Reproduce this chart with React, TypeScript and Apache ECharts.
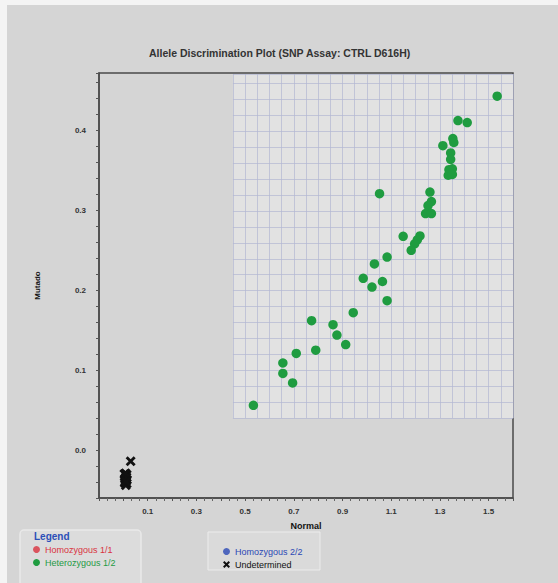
import React, { useEffect, useRef } from "react";
import * as echarts from "echarts";

const titleText = "Allele Discrimination Plot (SNP Assay: CTRL D616H)";
const xName = "Normal";
const yName = "Mutado";

const hetX = [1.535, 1.374, 1.412, 1.353, 1.357, 1.312, 1.344, 1.344, 1.351, 1.337, 1.334, 1.351, 1.052, 1.259, 1.265, 1.251, 1.241, 1.265, 1.149, 1.218, 1.207, 1.196, 1.182, 1.083, 1.031, 0.985, 1.021, 1.064, 1.083, 0.944, 0.773, 0.861, 0.877, 0.913, 0.71, 0.79, 0.655, 0.655, 0.695, 0.534];
const hetY = [0.443, 0.4125, 0.41, 0.39, 0.385, 0.381, 0.372, 0.364, 0.352, 0.351, 0.344, 0.345, 0.321, 0.323, 0.311, 0.306, 0.296, 0.296, 0.2675, 0.268, 0.263, 0.258, 0.25, 0.2416, 0.233, 0.215, 0.204, 0.211, 0.187, 0.172, 0.162, 0.157, 0.144, 0.132, 0.121, 0.125, 0.109, 0.096, 0.084, 0.056];

const undX = [0.03, 0.004, 0.014, 0.006, 0.015, 0.005, 0.014, 0.01, 0.01, 0.007, 0.013, 0.009, 0.011];
const undY = [-0.014, -0.03, -0.031, -0.036, -0.037, -0.041, -0.042, -0.034, -0.044, -0.039, -0.034, -0.029, -0.039];

const hom11X: number[] = [];
const hom11Y: number[] = [];
const hom22X: number[] = [];
const hom22Y: number[] = [];

const FONT = "Liberation Sans, Arial, sans-serif";
const XPATH = "path://M0,2 L2,0 L5,3 L8,0 L10,2 L7,5 L10,8 L8,10 L5,7 L2,10 L0,8 L3,5 Z";

const zip = (xs: number[], ys: number[]) => xs.map((x, i) => [x, ys[i]]);

export default function App() {
  const ref = useRef<HTMLDivElement>(null);
  useEffect(() => {
    if (!ref.current) return;
    const chart = echarts.init(ref.current, undefined, { renderer: "svg" });
    const axisLineStyle = { color: "#4a4a4a", width: 1.5 };
    const option: any = {
      animation: false,
      backgroundColor: "#d5d5d5",
      textStyle: { fontFamily: FONT },
      graphic: [
        { type: "rect", silent: true, shape: { x: 0, y: 0, width: 558, height: 5 }, style: { fill: "#f4f4f4" } },
        { type: "rect", silent: true, shape: { x: 0, y: 0, width: 7, height: 583 }, style: { fill: "#f4f4f4" } },
        { type: "rect", silent: true, shape: { x: 20, y: 530, width: 121, height: 60, r: 4 }, style: { fill: "#dcdcdc", stroke: "#e9e9e9", lineWidth: 1.5 } },
        { type: "rect", silent: true, shape: { x: 208, y: 532, width: 112, height: 38 }, style: { fill: "#dadada", stroke: "#ececec", lineWidth: 1 } },
        { type: "text", silent: true, left: 34, top: 531, style: { text: "Legend", fill: "#2b4fb8", font: "bold 10px " + FONT } },
      ],
      title: {
        text: titleText,
        left: 149,
        top: 47,
        padding: 0,
        textStyle: { fontSize: 10.5, fontWeight: "bold", color: "#333", fontFamily: FONT },
      },
      legend: [
        {
          left: 33, top: 545, orient: "vertical", itemGap: 4, itemWidth: 7, itemHeight: 7, padding: 0,
          textStyle: { fontSize: 9, fontFamily: FONT },
          data: [
            { name: "Homozygous 1/1", icon: "circle", textStyle: { color: "#d9323f" } },
            { name: "Heterozygous 1/2", icon: "circle", textStyle: { color: "#1f9a44" } },
          ],
        },
        {
          left: 223, top: 547, orient: "vertical", itemGap: 4, itemWidth: 7, itemHeight: 7, padding: 0,
          textStyle: { fontSize: 9, fontFamily: FONT },
          data: [
            { name: "Homozygous 2/2", icon: "circle", textStyle: { color: "#2b48b5" } },
            { name: "Undetermined", icon: XPATH, textStyle: { color: "#111" } },
          ],
        },
      ],
      grid: [
        { left: 99, right: 45, top: 73, bottom: 85, show: true, borderColor: "#4a4a4a", borderWidth: 1.5, backgroundColor: "transparent" },
        { left: 232.9, right: 45, top: 74, bottom: 164.9, show: true, borderWidth: 0, backgroundColor: "#e2e2e2" },
      ],
      xAxis: [
        {
          gridIndex: 0, type: "value", min: -0.1, max: 1.6, interval: 0.1,
          name: xName, nameLocation: "middle", nameGap: 23,
          nameTextStyle: { fontWeight: "bold", fontSize: 9, color: "#111", fontFamily: FONT },
          axisLine: { show: true, onZero: false, lineStyle: axisLineStyle },
          axisTick: { show: true, length: 3, lineStyle: { color: "#555" } },
          minorTick: { show: true, splitNumber: 3, length: 3, lineStyle: { color: "#666" } },
          axisLabel: {
            fontSize: 8, fontWeight: "bold", color: "#333", margin: 9, fontFamily: FONT,
            formatter: (v: number) => { const k = Math.round(v * 10); return k > 0 && k % 2 === 1 ? (k / 10).toFixed(1) : ""; },
          },
          splitLine: { show: false },
        },
        {
          gridIndex: 1, type: "value", min: 0.45, max: 1.6, interval: 0.05,
          axisLine: { show: false }, axisTick: { show: false }, axisLabel: { show: false },
          splitLine: { show: true, lineStyle: { color: "#b3b8d3", width: 0.7 } },
        },
      ],
      yAxis: [
        {
          gridIndex: 0, type: "value", min: -0.06, max: 0.472, interval: 0.02,
          name: yName, nameLocation: "middle", nameGap: 58,
          nameTextStyle: { fontWeight: "bold", fontSize: 8, color: "#111", fontFamily: FONT },
          axisLine: { show: true, onZero: false, lineStyle: axisLineStyle },
          axisTick: { show: true, length: 3, lineStyle: { color: "#555" } },
          axisLabel: {
            fontSize: 8, fontWeight: "bold", color: "#333", margin: 13, fontFamily: FONT,
            formatter: (v: number) => { const k = Math.round(v * 100); return k >= 0 && k % 10 === 0 ? (k / 100).toFixed(1) : ""; },
          },
          splitLine: { show: false },
        },
        {
          gridIndex: 1, type: "value", min: 0.04, max: 0.472, interval: 0.02,
          axisLine: { show: false }, axisTick: { show: false }, axisLabel: { show: false },
          splitLine: { show: true, lineStyle: { color: "#b3b8d3", width: 0.7 } },
        },
      ],
      series: [
        { name: "Homozygous 1/1", type: "scatter", xAxisIndex: 0, yAxisIndex: 0, symbol: "circle", symbolSize: 9.5, itemStyle: { color: "#d9323f" }, data: zip(hom11X, hom11Y) },
        { name: "Heterozygous 1/2", type: "scatter", xAxisIndex: 0, yAxisIndex: 0, symbol: "circle", symbolSize: 9.5, itemStyle: { color: "#1f9c40", opacity: 1 }, data: zip(hetX, hetY) },
        { name: "Homozygous 2/2", type: "scatter", xAxisIndex: 0, yAxisIndex: 0, symbol: "circle", symbolSize: 9.5, itemStyle: { color: "#2b48b5" }, data: zip(hom22X, hom22Y) },
        { name: "Undetermined", type: "scatter", xAxisIndex: 0, yAxisIndex: 0, symbol: XPATH, symbolSize: 10, itemStyle: { color: "#111", opacity: 1 }, data: zip(undX, undY) },
      ],
    };
    chart.setOption(option);
    return () => chart.dispose();
  }, []);
  return <div ref={ref} style={{ position: "fixed", left: 0, top: 0, width: 558, height: 583 }} />;
}
